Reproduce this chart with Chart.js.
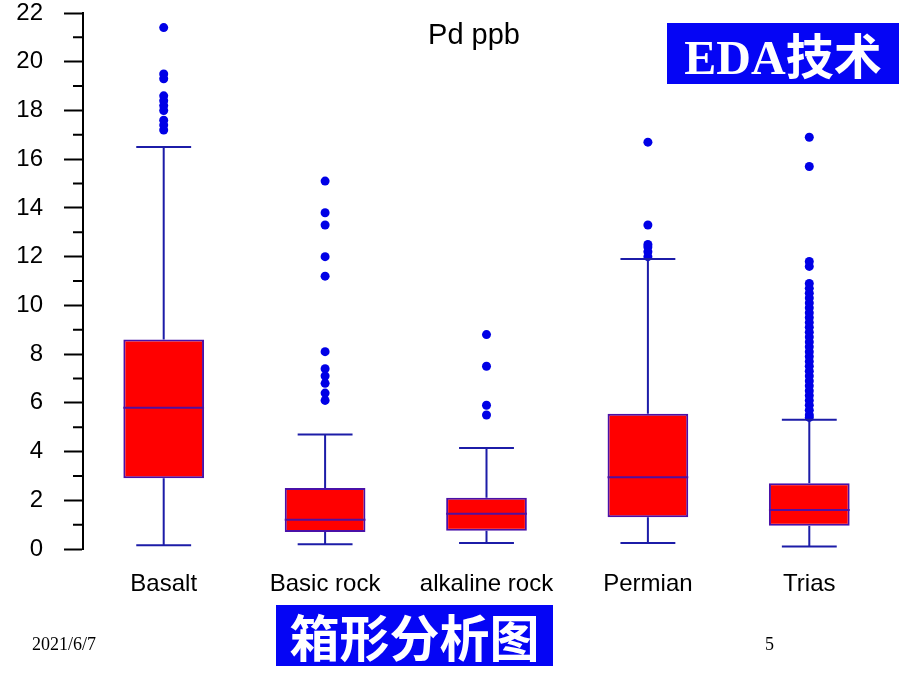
<!DOCTYPE html>
<html>
<head>
<meta charset="utf-8">
<script src="https://cdn.jsdelivr.net/npm/chart.js@4.4.1/dist/chart.umd.min.js"></script>
<style>
  html, body { margin: 0; padding: 0; background: #fff; }
  #wrap { position: relative; width: 920px; height: 690px; }
  .tag { position: absolute; background: #0505f5; color: #fff; font-weight: bold;
         text-align: center; white-space: nowrap; }
  .foot { position: absolute; font-family: "Liberation Serif", "DejaVu Serif", serif; font-size: 18px; color: #000; }
</style>
</head>
<body>
<div id="wrap">
  <canvas id="myChart" width="920" height="690"></canvas>
  <div class="tag" style="left:667px; top:23px; width:232px; height:61px; line-height:61px; font-size:48px; font-family:'Liberation Serif','Noto Sans CJK SC',serif;">EDA<span style="font-family:'Noto Sans CJK SC',sans-serif;">技术</span></div>
  <div class="tag" style="left:276px; top:605px; width:277px; height:61px; line-height:61px; font-size:50px; font-family:'Noto Sans CJK SC',sans-serif;">箱形分析图</div>
  <div class="foot" style="left:32px; top:634px;">2021/6/7</div>
  <div class="foot" style="left:765px; top:634px;">5</div>
</div>
<script>
// box plot values (Pd ppb)
var labels = ["Basalt", "Basic rock", "alkaline rock", "Permian", "Trias"];
var mins = [0.15, 0.2, 0.25, 0.25, 0.1];
var q1s = [2.9, 0.7, 0.75, 1.3, 0.95];
var medians = [5.8, 1.2, 1.45, 2.95, 1.6];
var q3s = [8.6, 2.5, 2.1, 5.55, 2.7];
var maxs = [16.5, 4.7, 4.15, 11.9, 5.3];
var outliers = [
    [21.4, 19.5, 19.3, 18.6, 18.4, 18.2, 18.0, 17.6, 17.4, 17.2],
    [15.1, 13.8, 13.3, 12.0, 11.2, 8.1, 7.4, 7.1, 6.8, 6.4, 6.1],
    [8.8, 7.5, 5.9, 5.5],
    [16.7, 13.3, 12.5, 12.4, 12.2, 12.0],
    [16.9, 15.7, 11.8, 11.6, 10.9, 10.7, 10.5, 10.3, 10.1, 9.9, 9.7, 9.5, 9.3, 9.1,
     8.9, 8.7, 8.5, 8.3, 8.1, 7.9, 7.7, 7.5, 7.3, 7.1, 6.9, 6.7, 6.5, 6.3, 6.1,
     5.9, 5.7, 5.5, 5.4]
];

var boxData = labels.map(function (l, i) { return [q1s[i], q3s[i]]; });
var pointData = [];
outliers.forEach(function (list, i) {
    list.forEach(function (v) { pointData.push({ x: labels[i], y: v }); });
});

var font = "'Liberation Sans', Arial, sans-serif";

// whiskers, caps, median lines, minor ticks and the title
var boxExtras = {
    id: "boxExtras",
    afterDatasetsDraw: function (chart) {
        var ctx = chart.ctx;
        var x = chart.scales.x, y = chart.scales.y;
        var meta = chart.getDatasetMeta(0);
        ctx.save();
        meta.data.forEach(function (bar, i) {
            var cx = x.getPixelForValue(i);
            var half = bar.width / 2;
            var cap = bar.width * 0.34;
            ctx.strokeStyle = "#1c1ca8";
            ctx.lineWidth = 2;
            ctx.beginPath();
            ctx.moveTo(cx, y.getPixelForValue(q3s[i]));
            ctx.lineTo(cx, y.getPixelForValue(maxs[i]));
            ctx.moveTo(cx, y.getPixelForValue(q1s[i]));
            ctx.lineTo(cx, y.getPixelForValue(mins[i]));
            ctx.moveTo(cx - cap, y.getPixelForValue(maxs[i]));
            ctx.lineTo(cx + cap, y.getPixelForValue(maxs[i]));
            ctx.moveTo(cx - cap, y.getPixelForValue(mins[i]));
            ctx.lineTo(cx + cap, y.getPixelForValue(mins[i]));
            ctx.stroke();
            ctx.strokeStyle = "#5010a0";
            ctx.beginPath();
            ctx.moveTo(cx - half, y.getPixelForValue(medians[i]));
            ctx.lineTo(cx + half, y.getPixelForValue(medians[i]));
            ctx.stroke();
        });
        // minor ticks on the y axis
        ctx.strokeStyle = "#000";
        ctx.lineWidth = 2;
        ctx.beginPath();
        for (var v = 1; v < 22; v += 2) {
            var py = y.getPixelForValue(v);
            ctx.moveTo(chart.chartArea.left - 10, py);
            ctx.lineTo(chart.chartArea.left, py);
        }
        ctx.stroke();
        ctx.fillStyle = "#000";
        ctx.font = "29px " + font;
        ctx.textAlign = "center";
        ctx.textBaseline = "middle";
        ctx.fillText("Pd ppb", 474, 36);
        ctx.restore();
    }
};

new Chart("myChart", {
    type: "bar",
    data: {
        labels: labels,
        datasets: [{
            data: boxData,
            backgroundColor: "#ff0000",
            borderColor: "#4a10a8",
            borderWidth: 2,
            borderSkipped: false,
            barPercentage: 0.5,
            categoryPercentage: 1,
            grouped: false
        }, {
            type: "scatter",
            data: pointData,
            backgroundColor: "#0000e6",
            borderWidth: 0,
            pointRadius: 4.5
        }]
    },
    options: {
        responsive: false,
        animation: false,
        layout: { padding: { left: 10, right: 30, top: 13, bottom: 91 } },
        plugins: { legend: { display: false }, tooltip: { enabled: false } },
        scales: {
            x: {
                type: "category",
                offset: true,
                grid: { display: false },
                border: { display: false },
                ticks: { color: "#000", font: { family: font, size: 24 }, padding: 13 },
                afterFit: function (s) { s.height = 50; s.paddingLeft = 0; s.paddingRight = 0; }
            },
            y: {
                min: 0,
                max: 22,
                grid: { drawOnChartArea: false, tickLength: 19, color: "#000", tickWidth: 2 },
                border: { display: true, color: "#000", width: 2 },
                ticks: { stepSize: 2, color: "#000", font: { family: font, size: 24 }, padding: 21 },
                afterFit: function (s) { s.width = 73; s.paddingTop = 0; s.paddingBottom = 0; }
            }
        }
    },
    plugins: [boxExtras]
});
</script>
</body>
</html>
